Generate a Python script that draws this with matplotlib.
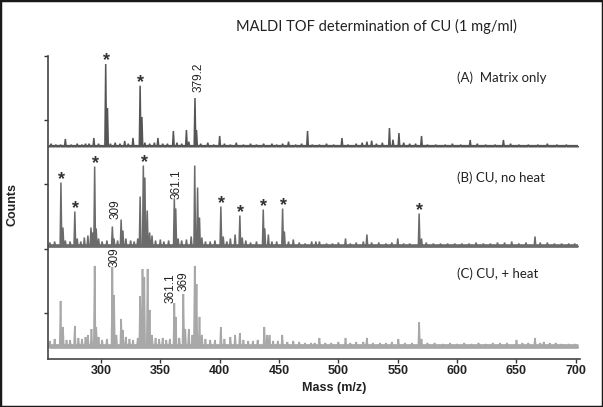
import matplotlib
matplotlib.use('Agg')
import matplotlib.pyplot as plt
from matplotlib.patches import Rectangle

# peaks: (m/z, intensity in a.u.)
matrix_peaks = [(258, 3), (262, 2), (266, 2), (270, 7.7), (275, 2), (280, 3), (284, 2), (287, 3), (290, 3),
                (294, 8.7), (298, 3), (304, 82.7), (305.5, 38.7), (308, 3), (312, 4), (316, 3), (320, 5.7),
                (323, 3), (327, 8.7), (333, 61), (334.5, 29.7), (337, 4), (341, 3), (345, 4), (348, 8.7),
                (352, 3), (356, 3), (361, 15.7), (364, 4), (368, 3), (372, 16.7), (374, 5), (379.2, 48.7),
                (380.5, 16.7), (384, 3), (390, 4), (395, 2), (400, 10.7), (404, 3), (409, 2), (414, 4),
                (420, 2), (426, 3), (431, 2), (437, 3), (444, 3), (448, 2), (453, 3), (458, 5), (464, 2),
                (469, 3), (474, 15.7), (478, 2), (484, 2), (490, 3), (496, 2), (503, 8.7), (508, 2), (515, 3),
                (520, 4), (524, 5), (528, 6), (532, 3), (537, 4), (543, 18.7), (546, 7), (551, 13.7), (555, 4),
                (560, 3), (565, 3), (570, 10.7), (575, 2), (582, 2), (590, 2), (596, 3), (603, 2), (611, 6.7),
                (617, 3), (624, 2), (632, 2), (639, 6.7), (645, 3), (652, 2), (660, 2), (668, 2), (676, 3),
                (684, 2), (692, 2)]

noheat_peaks = [(257, 4), (261, 5), (266.3, 64), (268, 19), (270, 6), (274, 5), (278, 35), (280, 8), (283, 5),
                (286, 9), (289, 11), (291.6, 19), (293, 14), (294.7, 80), (296, 18), (298, 8), (301, 5), (305, 6),
                (309.6, 20), (311, 8), (314, 6), (317, 27), (318.5, 16), (321, 8), (325, 6), (328, 5), (331, 8),
                (333, 50), (335.7, 81), (337, 69), (339, 36), (341, 14), (343, 11), (346, 6), (350, 7), (353, 5),
                (357, 6), (361.8, 48), (363, 38), (365, 8), (368, 6), (372, 7), (376, 10), (379, 81), (381.4, 59),
                (383, 29), (385, 9), (388, 5), (392, 5), (396, 6), (401, 40), (403, 10), (406, 5), (409, 8),
                (413, 12), (417, 31), (419, 9), (422, 6), (426, 4), (431, 5), (436.7, 37), (438, 18), (441, 12),
                (444, 5), (448, 5), (453, 38), (454.5, 15), (458, 5), (462, 7), (467, 4), (472, 3), (477.5, 5),
                (481, 5), (484, 5), (490, 3), (495, 3), (500, 4), (506, 8), (510, 3), (515, 4), (521, 5),
                (524, 12), (528, 4), (534, 4), (540, 3), (545, 4), (550, 8), (555, 3), (560, 3), (568, 33),
                (570, 8), (574, 4), (580, 3), (586, 3), (592, 3), (598, 3), (604, 3), (610, 3), (616, 4),
                (622, 3), (628, 3), (634, 4), (640, 4), (646, 5), (652, 3), (658, 4), (665.6, 10), (670, 4),
                (676, 4), (682, 3), (688, 3), (694, 3), (699, 3)]

heat_peaks = [(257, 6), (261, 8), (266, 46), (268, 20), (271, 7), (274, 7), (278, 21), (281, 9), (284, 8),
              (287, 10), (289, 12), (292, 18), (294.7, 81), (296, 20), (298, 10), (301, 7), (305, 8),
              (309.6, 80), (311, 52), (313, 12), (317, 28), (318.5, 17), (321, 10), (324, 8), (327, 7), (331, 9),
              (333, 51), (335, 78), (336.5, 70), (339.3, 78), (341, 37), (343, 12), (346, 9), (349, 8), (352, 9),
              (355, 7), (358, 8), (361.8, 44), (363, 30), (366, 9), (369.4, 53), (371, 18), (374, 18), (377, 12),
              (379, 81), (380.5, 63), (383, 30), (385, 12), (388, 8), (392, 7), (396, 7), (401, 20), (404, 8),
              (409, 10), (413, 12), (417, 14), (420, 7), (424, 6), (428, 6), (432, 7), (437.6, 20), (440, 12),
              (442, 12), (445, 6), (449, 6), (452.7, 12), (457, 5), (462, 6), (467, 5), (472, 4), (477, 4),
              (480, 4), (484, 9), (489, 4), (494, 4), (500, 5), (506, 9), (510, 4), (515, 5), (521, 5), (524, 9),
              (529, 4), (535, 4), (540, 4), (545, 5), (550.5, 8), (556, 4), (562, 4), (568, 24.6), (570, 8),
              (575, 4), (581, 4), (588, 3), (594, 4), (600, 3), (606, 4), (612, 3), (618, 4), (624, 3), (630, 4),
              (636, 4), (642, 4), (650, 7), (655, 4), (660, 4), (665.6, 9), (670, 4), (673, 5), (678, 4),
              (683, 4), (688, 3), (694, 3), (699, 3)]

# marked peaks
matrix_stars = [304, 333]
noheat_stars = [266.3, 278, 294.7, 335.7, 401, 417, 436.7, 453, 568]
matrix_labels = [(379.2, '379.2')]
noheat_labels = [(309.6, '309'), (361.8, '361.1')]
heat_labels = [(309.6, '309'), (361.8, '361.1'), (369.4, '369')]

xticks = [300, 350, 400, 450, 500, 550, 600, 650, 700]

SCALE = 64.4          # intensity units per y tick
PX = 0.72             # points per pixel at dpi 100


def stick(peaks, base, lo=256, hi=702, w=0.7):
    xs, ys = [lo], [base]
    for m, h in sorted(peaks):
        xs += [m - w, m, m + w]
        ys += [base, base + h / SCALE, base]
    xs.append(hi)
    ys.append(base)
    return xs, ys


def top_of(peaks, base, m):
    h = dict(peaks)[m]
    return base + h / SCALE


fig = plt.figure(figsize=(6.03, 4.07), dpi=100)
ax = fig.add_axes([48 / 603, 1 - 359 / 407, 532 / 603, 303.3 / 407])

# (peaks, baseline, colour, line width, noise band width)
panels = [
    (matrix_peaks, 2.587, '#555555', 1.1, 1.6),
    (noheat_peaks, 1.037, '#6b6b6b', 1.1, 2.6),
    (heat_peaks, -0.523, '#a8a8a8', 1.2, 3.4),
]
for peaks, base, col, lw, band in panels:
    xs, ys = stick(peaks, base)
    ax.plot([256, 702], [base + 0.01, base + 0.01], color=col, lw=band, solid_capstyle='butt')
    ax.plot(xs, ys, color=col, lw=lw, solid_joinstyle='miter')

# asterisks
star_font = dict(fontsize=13, fontweight='bold', family='Liberation Sans', color='#333333')
for m in matrix_stars:
    ax.annotate('*', (m, top_of(matrix_peaks, 2.587, m)), xytext=(0.5, -1.5 * PX),
                textcoords='offset points', ha='center', va='baseline', **star_font)
for m in noheat_stars:
    ax.annotate('*', (m, top_of(noheat_peaks, 1.037, m)), xytext=(0.5, -1.5 * PX),
                textcoords='offset points', ha='center', va='baseline', **star_font)

# rotated mass labels (dx, gap in pixels)
lab_font = dict(fontsize=8.5, family='Liberation Sans', color='#222222', rotation=90)
offs_a = [(4, 6)]
offs_b = [(3, 8), (2, 0)]
offs_c = [(2, 0), (-4, 0), (0, 3)]
for (m, s), (dx, gap) in zip(matrix_labels, offs_a):
    ax.annotate(s, (m, top_of(matrix_peaks, 2.587, m)), xytext=(dx * PX, gap * PX),
                textcoords='offset points', ha='center', va='bottom', **lab_font)
for (m, s), (dx, gap) in zip(noheat_labels, offs_b):
    ax.annotate(s, (m, top_of(noheat_peaks, 1.037, m)), xytext=(dx * PX, gap * PX),
                textcoords='offset points', ha='center', va='bottom', **lab_font)
for (m, s), (dx, gap) in zip(heat_labels, offs_c):
    ax.annotate(s, (m, top_of(heat_peaks, -0.523, m)), xytext=(dx * PX, gap * PX),
                textcoords='offset points', ha='center', va='bottom', **lab_font)

ax.set_xlim(255.4, 703.5)
ax.set_ylim(-0.71, 4.0)
ax.set_xticks(xticks)
ax.set_xticklabels([str(t) for t in xticks], fontsize=9, fontweight='bold', family='Liberation Sans')
ax.set_yticks([0, 1, 2, 3, 4])
ax.set_yticklabels([])
ax.tick_params(axis='x', direction='out', length=3, width=1, pad=1.5, colors='#333333', labelcolor='#222222')
ax.tick_params(axis='y', direction='out', length=3, width=1, colors='#333333')
for side in ['top', 'right']:
    ax.spines[side].set_visible(False)
for side in ['left', 'bottom']:
    ax.spines[side].set_color('#444444')
    ax.spines[side].set_linewidth(1.2)
ax.patch.set_visible(False)

fig.text(376 / 603, 1 - 26.7 / 407, 'MALDI TOF determination of CU (1 mg/ml)', ha='center', va='center',
         fontsize=10.5, family='Lato', color='#222222')
fig.text(456.5 / 603, 1 - 77.3 / 407, '(A)  Matrix only', ha='left', va='center', fontsize=9.5,
         family='Lato', color='#222222')
fig.text(456.5 / 603, 1 - 177.3 / 407, '(B) CU, no heat', ha='left', va='center', fontsize=9.5,
         family='Lato', color='#222222')
fig.text(456.5 / 603, 1 - 273.3 / 407, '(C) CU, + heat', ha='left', va='center', fontsize=9.5,
         family='Lato', color='#222222')
fig.text(12 / 603, 1 - 204 / 407, 'Counts', rotation=90, ha='center', va='center', fontsize=9,
         fontweight='bold', family='Liberation Sans', color='#222222')
fig.text(334.5 / 603, 1 - 387.7 / 407, 'Mass (m/z)', ha='center', va='center', fontsize=9,
         fontweight='bold', family='Liberation Sans', color='#222222')

fig.patches.append(Rectangle((0, 0), 1, 1, transform=fig.transFigure, fill=False, lw=2.5, ec='#1a1a1a'))

fig.savefig('out.png', dpi=100)
